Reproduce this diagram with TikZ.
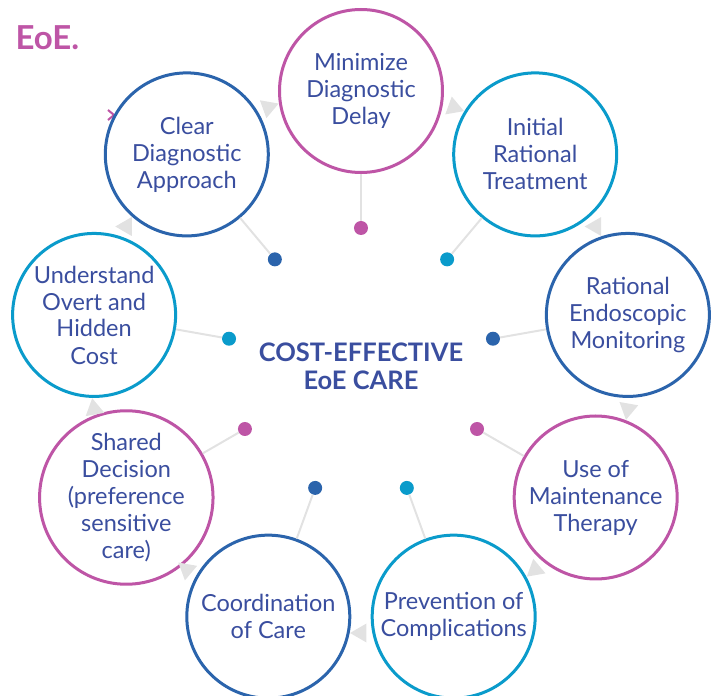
\documentclass[tikz,border=0pt]{standalone}
\usepackage{fontspec}
\setmainfont{Lato}
\usetikzlibrary{shapes.geometric}
\definecolor{eoemag}{HTML}{BE55A6}
\definecolor{eoeblue}{HTML}{2B64AC}
\definecolor{eoecyan}{HTML}{0A9BCB}
\definecolor{eoetext}{HTML}{3A4E9F}
\definecolor{eoegray}{HTML}{E2E2E2}
\begin{document}
\begin{tikzpicture}[x=1pt,y=1pt,
  every node/.style={font=\fontsize{23.5}{27}\selectfont,text=eoetext},
  stage/.style={circle,draw=#1,line width=3pt,fill=white,minimum size=163pt,inner sep=0pt,align=center},
  hub/.style={circle,fill=#1,minimum size=14pt,inner sep=0pt},
  spoke/.style={eoegray,line width=2pt},
  turn/.style={regular polygon,regular polygon sides=3,fill=eoegray,minimum size=22pt,inner sep=0pt}]
\useasboundingbox (-361,-334) rectangle (355,362);
% cropped title and mark from the slide
\node[anchor=base west,font=\fontsize{33}{36}\selectfont\bfseries,text=eoemag] (title) at (-349,312) {EoE.};
\draw[eoemag,line width=2pt] (-253,252)--(-247,247)--(-253,242);
% the nine stages, clockwise from the top
\node[stage=eoemag]  (delay)  at (90:271)   {Minimize\\Diagnostic\\Delay};
\node[stage=eoecyan] (treat)  at (50:271)   {Initial\\Rational\\Treatment};
\node[stage=eoeblue] (endo)   at (10:271)   {Rational\\Endoscopic\\Monitoring};
\node[stage=eoemag]  (maint)  at (-30:271)  {Use of\\Maintenance\\Therapy};
\node[stage=eoecyan] (prev)   at (-70:271)  {Prevention of\\Complications};
\node[stage=eoeblue] (coord)  at (-110:271) {Coordination\\of Care};
\node[stage=eoemag]  (shared) at (-150:271) {Shared\\Decision\\(preference\\sensitive\\care)};
\node[stage=eoecyan] (cost)   at (170:271)  {Understand\\Overt and\\Hidden\\Cost};
\node[stage=eoeblue] (clear)  at (130:271)  {Clear\\Diagnostic\\Approach};
% hub dots and spokes
\node[hub=eoemag]  (delay-dot)  at (90:134)   {};
\node[hub=eoecyan] (treat-dot)  at (50:134)   {};
\node[hub=eoeblue] (endo-dot)   at (10:134)   {};
\node[hub=eoemag]  (maint-dot)  at (-30:134)  {};
\node[hub=eoecyan] (prev-dot)   at (-70:134)  {};
\node[hub=eoeblue] (coord-dot)  at (-110:134) {};
\node[hub=eoemag]  (shared-dot) at (-150:134) {};
\node[hub=eoecyan] (cost-dot)   at (170:134)  {};
\node[hub=eoeblue] (clear-dot)  at (130:134)  {};
\draw[spoke] (delay-dot) -- (delay);
\draw[spoke] (treat-dot) -- (treat);
\draw[spoke] (endo-dot) -- (endo);
\draw[spoke] (maint-dot) -- (maint);
\draw[spoke] (prev-dot) -- (prev);
\draw[spoke] (coord-dot) -- (coord);
\draw[spoke] (shared-dot) -- (shared);
\draw[spoke] (cost-dot) -- (cost);
\draw[spoke] (clear-dot) -- (clear);
% gray arrowheads between stages
\node[turn,rotate=-110] (t1) at (70:271)   {};
\node[turn,rotate=-150] (t2) at (30:271)   {};
\node[turn,rotate=170]  (t3) at (-10:271)  {};
\node[turn,rotate=130]  (t4) at (-50:271)  {};
\node[turn,rotate=90]   (t5) at (-90:271)  {};
\node[turn,rotate=50]   (t6) at (-130:271) {};
\node[turn,rotate=10]   (t7) at (-170:271) {};
\node[turn,rotate=-30]  (t8) at (150:271)  {};
\node[turn,rotate=-70]  (t9) at (110:271)  {};
% centre label
\node[font=\fontsize{25.5}{28}\selectfont\bfseries,align=center] (core) at (0,-4) {COST-EFFECTIVE\\EoE CARE};
\end{tikzpicture}
\end{document}
